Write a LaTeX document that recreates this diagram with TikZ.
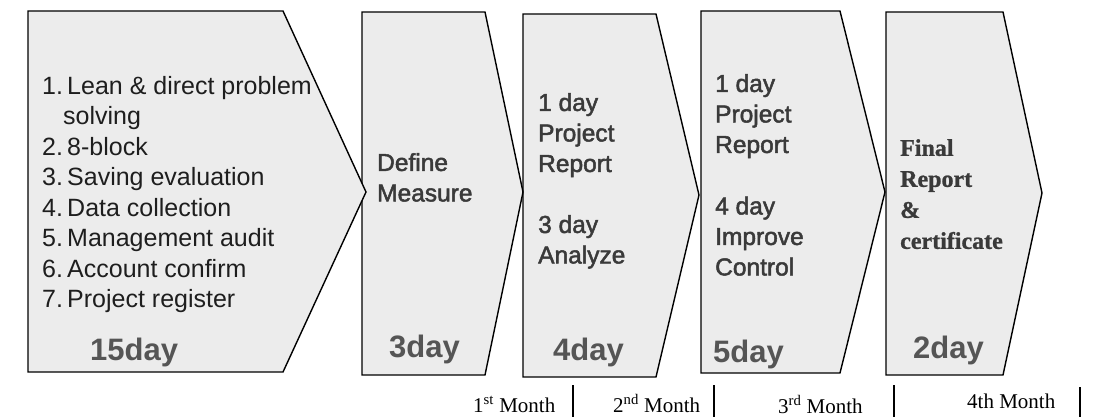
\documentclass[tikz,border=0pt]{standalone}
\usepackage{fontspec}
\setmainfont{Liberation Serif}
\setsansfont{Liberation Sans}
\newfontfamily\shadowsans[FakeBold=2]{Liberation Sans}
\newfontfamily\shadowserif[FakeBold=1]{Liberation Serif}
\definecolor{stagefill}{HTML}{ECECEC}
\definecolor{txtdark}{HTML}{1E1E1E}
\definecolor{txtmid}{HTML}{3A3A3A}
\definecolor{daygray}{HTML}{555555}
\begin{document}
\begin{tikzpicture}[x=1pt,y=-1pt,
  stage/.style={draw=black, line width=1.4pt, fill=stagefill, line join=miter},
  body/.style={anchor=north west, inner sep=0pt, align=left, text=txtmid,
    font=\shadowsans\fontsize{24.5}{30.5}\selectfont},
  daylbl/.style={anchor=base west, inner sep=0pt, text=daygray,
    font=\sffamily\bfseries\fontsize{31}{31}\selectfont},
  month/.style={anchor=base west, inner sep=0pt, text=black,
    font=\rmfamily\fontsize{21}{21}\selectfont},
  sep/.style={draw=black, line width=1.4pt}]
\useasboundingbox (0,0) rectangle (1094,417);
% stages (drawn right to left so each tip lies over the next box)
\draw[stage] (886,12) -- (1003,12) -- (1042,193) -- (1003,375) -- (886,375) -- cycle;
\draw[stage] (701,11) -- (840,11) -- (885,192) -- (840,373) -- (701,373) -- cycle;
\draw[stage] (523,14) -- (656,14) -- (699,195) -- (656,377) -- (523,377) -- cycle;
\draw[stage] (362,12) -- (485,12) -- (523,192) -- (485,375) -- (362,375) -- cycle;
\draw[stage] (28,11) -- (283,11) -- (366,192) -- (283,372) -- (28,372) -- cycle;
% texts
\node[body, text=txtdark, font=\sffamily\fontsize{25}{30.5}\selectfont] (list) at (42,76) {1.\,Lean \& direct problem\\
\hspace*{21pt}solving\\
2.\,8-block\\
3.\,Saving evaluation\\
4.\,Data collection\\
5.\,Management audit\\
6.\,Account confirm\\
7.\,Project register};
\node[body] (dm) at (377,153) {Define\\Measure};
\node[body] (ra) at (538,93) {1 day\\Project\\Report\\[30.5pt]3 day\\Analyze};
\node[body] (ic) at (715,74) {1 day\\Project\\Report\\[31pt]4 day\\Improve\\Control};
\node[body, font=\shadowserif\bfseries\fontsize{24}{31}\selectfont, text=txtmid] (fr) at (900,139) {Final\\Report\\\&\\certificate};
% durations
\node[daylbl] (d1) at (90,360) {15day};
\node[daylbl] (d2) at (389,357) {3day};
\node[daylbl] (d3) at (553,360) {4day};
\node[daylbl] (d4) at (713,362) {5day};
\node[daylbl] (d5) at (913,358) {2day};
% months
\node[month] (m1) at (473,412) {1\textsuperscript{st} Month};
\node[month] (m2) at (613,412) {2\textsuperscript{nd} Month};
\node[month] (m3) at (778,413) {3\textsuperscript{rd} Month};
\node[month] (m4) at (967,408) {4th Month};
\coordinate (a1) at (573,385); \coordinate (b1) at (573,417);
\coordinate (a2) at (714,385); \coordinate (b2) at (714,417);
\coordinate (a3) at (894,385); \coordinate (b3) at (894,417);
\coordinate (a4) at (1080,387); \coordinate (b4) at (1080,417);
\draw[sep] (a1) -- (b1);
\draw[sep] (a2) -- (b2);
\draw[sep] (a3) -- (b3);
\draw[sep] (a4) -- (b4);
\end{tikzpicture}
\end{document}
